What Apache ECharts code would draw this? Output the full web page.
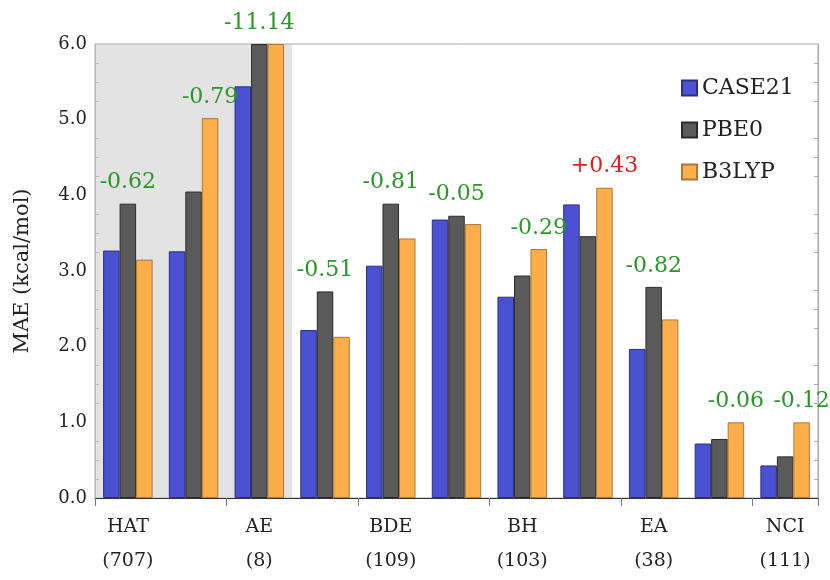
<!DOCTYPE html>
<html>
<head>
<meta charset="utf-8">
<script src="https://cdn.jsdelivr.net/npm/echarts@6/dist/echarts.min.js"></script>
<style>html,body{margin:0;padding:0;background:#fff}</style>
</head>
<body>
<div id="chart" style="width:830px;height:580px"></div>
<script>
// categories and set sizes
const categories = ['HAT', 'TAE', 'AE', 'RXN', 'BDE', 'PA', 'BH', 'IP', 'EA', 'IE', 'NCI'];
const counts = ['707', '203', '8', '111', '109', '39', '103', '59', '38', '775', '111'];
// MAE values (AE capped at axis top)
const case21 = [3.27, 3.26, 5.44, 2.22, 3.07, 3.68, 2.66, 3.88, 1.97, 0.72, 0.43];
const pbe0 = [3.89, 4.05, 6.0, 2.73, 3.89, 3.73, 2.94, 3.46, 2.79, 0.78, 0.55];
const b3lyp = [3.15, 5.02, 6.0, 2.13, 3.43, 3.62, 3.29, 4.10, 2.36, 1.00, 1.00];
const deltas = ['-0.62', '-0.79', '-11.14', '-0.51', '-0.81', '-0.05', '-0.29', '+0.43', '-0.82', '-0.06', '-0.12'];

const font = 'DejaVu Serif';
const series = [
  { name: 'CASE21', data: case21, color: '#4b52d1', border: '#2a2f80' },
  { name: 'PBE0', data: pbe0, color: '#5a5a5a', border: '#2b2b2b' },
  { name: 'B3LYP', data: b3lyp, color: '#fead4b', border: '#a87a3a' }
];

// find which series is tallest in each group so the delta label sits on it
const tallest = categories.map((c, i) => {
  let best = 0;
  series.forEach((s, k) => { if (s.data[i] > series[best].data[i]) best = k; });
  return best;
});

const chart = echarts.init(document.getElementById('chart'));
chart.setOption({
  animation: false,
  textStyle: { fontFamily: font },
  grid: { left: 95, right: 12, top: 44, bottom: 82, show: true, borderColor: '#aaa', borderWidth: 1 },
  legend: {
    orient: 'vertical', left: 676, top: 72, itemWidth: 15, itemHeight: 15, itemGap: 20,
    icon: 'rect', textStyle: { fontSize: 22, fontFamily: font, color: '#222' }
  },
  xAxis: {
    type: 'category', data: categories,
    axisLine: { lineStyle: { color: '#333' } },
    axisTick: { show: true, length: 8, lineStyle: { color: '#777' } },
    axisLabel: {
      fontSize: 19, color: '#222', margin: 12, lineHeight: 34,
      formatter: (v, i) => v + '\n(' + counts[i] + ')'
    }
  },
  yAxis: [{
    type: 'value', min: 0, max: 6, interval: 1,
    name: 'MAE (kcal/mol)', nameLocation: 'middle', nameGap: 62, nameRotate: 90,
    nameTextStyle: { fontSize: 21, color: '#222', fontFamily: font },
    axisLine: { show: true, lineStyle: { color: '#aaa' } },
    axisTick: { inside: true, length: 6, lineStyle: { color: '#999' } },
    minorTick: { show: true, splitNumber: 4, length: 4, lineStyle: { color: '#aaa' } },
    splitLine: { show: false },
    axisLabel: { fontSize: 18, color: '#222', formatter: v => v.toFixed(1) }
  }, {
    type: 'value', min: 0, max: 6, interval: 1, position: 'right',
    axisLine: { show: true, lineStyle: { color: '#aaa' } },
    axisTick: { inside: true, length: 6, lineStyle: { color: '#999' } },
    minorTick: { show: true, splitNumber: 4, length: 4, lineStyle: { color: '#aaa' } },
    splitLine: { show: false }, axisLabel: { show: false }
  }],
  series: series.map((s, k) => ({
    name: s.name, type: 'bar', barWidth: 16.5, barGap: '0%',
    itemStyle: { color: s.color, borderColor: s.border, borderWidth: 1 },
    data: s.data.map((v, i) => tallest[i] === k ? {
      value: v,
      label: {
        show: true, position: 'top', distance: 10,
        fontSize: 22, fontFamily: font,
        color: deltas[i][0] === '+' ? '#e0201e' : '#2a962a',
        formatter: deltas[i]
      }
    } : v),
    markArea: k === 0 ? {
      silent: true,
      itemStyle: { color: 'rgba(200,200,200,0.5)' },
      data: [[{ xAxis: 'HAT', x: 95 }, { xAxis: 'AE', x: 292 }]]
    } : undefined,
    z: 2
  }))
});
</script>
</body>
</html>
